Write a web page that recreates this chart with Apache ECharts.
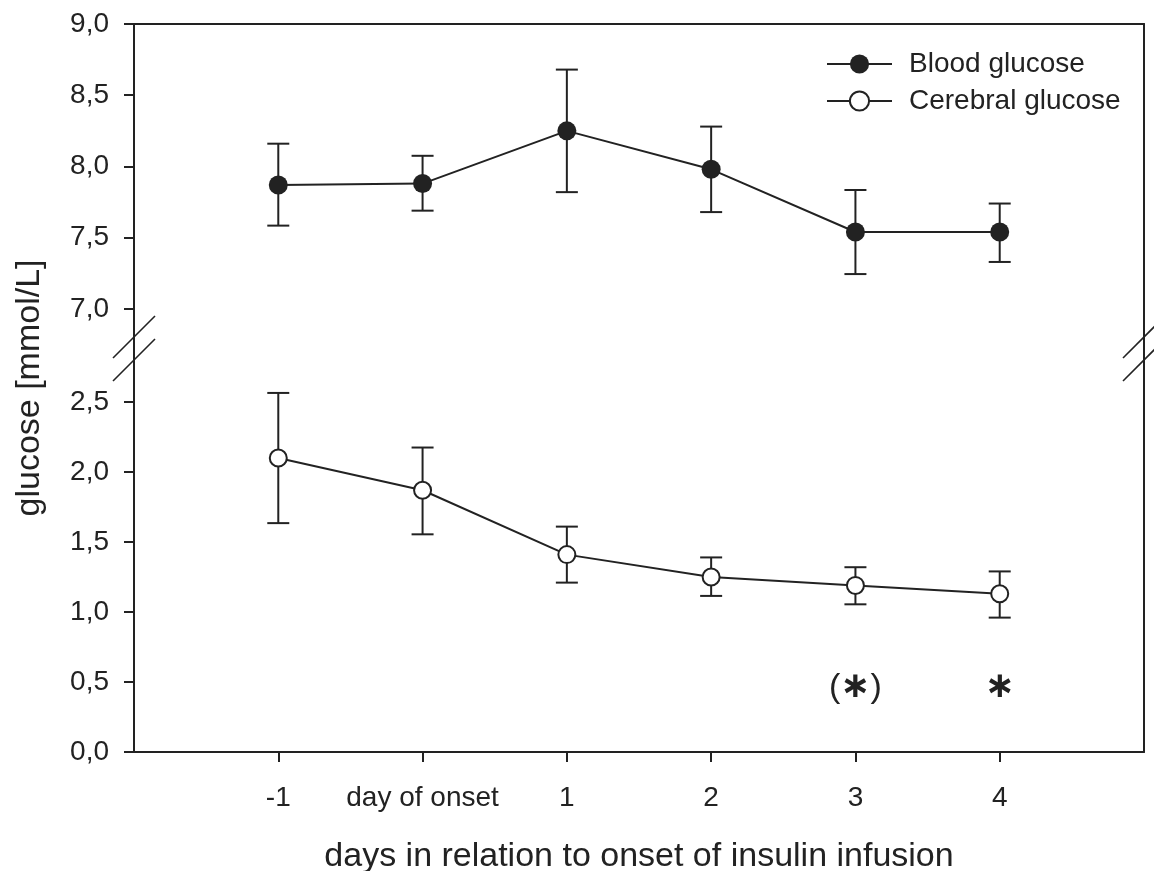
<!DOCTYPE html>
<html><head><meta charset="utf-8">
<script src="https://cdn.jsdelivr.net/npm/echarts@6/dist/echarts.min.js"></script>
<style>html,body{margin:0;padding:0;background:#fff}#c{width:1154px;height:871px}</style>
</head><body><div id="c"></div>
<script>
// ---- data ----
const days = [-1, 0, 1, 2, 3, 4];
const dayLabels = ['-1', 'day of onset', '1', '2', '3', '4'];
const bloodMean = [7.87, 7.88, 8.25, 7.98, 7.54, 7.54];
const bloodLow = [7.585, 7.69, 7.82, 7.68, 7.245, 7.33];
const bloodHigh = [8.16, 8.075, 8.68, 8.28, 7.835, 7.74];
const cerebralMean = [2.10, 1.87, 1.41, 1.25, 1.19, 1.13];
const cerebralLow = [1.635, 1.555, 1.21, 1.115, 1.055, 0.96];
const cerebralHigh = [2.565, 2.175, 1.61, 1.39, 1.32, 1.29];
const upperTicks = [7.0, 7.5, 8.0, 8.5, 9.0];
const lowerTicks = [0.0, 0.5, 1.0, 1.5, 2.0, 2.5];
const sigDays = [3, 4];
const sigMarks = ['(∗)', '∗'];
const sigLevel = 0.46;

// ---- layout ----
const INK = '#222';
const FONT = 'Liberation Sans, Arial, Helvetica, sans-serif';
const L = 134, RX = 1144, T = 24, BRK = 355, B = 752, W = 1154, H = 871;

const fmt = v => v.toFixed(1).replace('.', ',');

function errRender(params, api) {
  const x = api.value(0), lo = api.value(1), hi = api.value(2);
  const pLo = api.coord([x, lo]), pHi = api.coord([x, hi]);
  const hw = 11;
  const style = {stroke: INK, lineWidth: 2};
  return {type: 'group', children: [
    {type: 'line', shape: {x1: pLo[0], y1: pLo[1], x2: pHi[0], y2: pHi[1]}, style},
    {type: 'line', shape: {x1: pLo[0] - hw, y1: pLo[1], x2: pLo[0] + hw, y2: pLo[1]}, style},
    {type: 'line', shape: {x1: pHi[0] - hw, y1: pHi[1], x2: pHi[0] + hw, y2: pHi[1]}, style}
  ]};
}

const axLine = {show: true, onZero: false, lineStyle: {color: INK, width: 2}};
const tick = {show: true, length: 10, lineStyle: {color: INK, width: 2}};
const lbl = {color: INK, fontSize: 28, fontFamily: FONT};

const slashes = [];
[L, RX].forEach(ax => {
  [BRK - 18, BRK + 5].forEach(yc => {
    slashes.push({type: 'line', z: 100, shape: {x1: ax - 21, y1: yc + 21, x2: ax + 21, y2: yc - 21},
      style: {stroke: INK, lineWidth: 1.6}});
  });
});

const option = {
  backgroundColor: '#fff',
  animation: false,
  grid: [
    {left: L, right: W - RX, top: T, height: BRK - T, outerBoundsMode: 'none', containLabel: false},
    {left: L, right: W - RX, top: BRK, height: B - BRK, outerBoundsMode: 'none', containLabel: false}
  ],
  xAxis: [
    {type: 'value', gridIndex: 0, min: -2, max: 5, position: 'top',
      axisLine: axLine, axisTick: {show: false}, axisLabel: {show: false}, splitLine: {show: false}},
    {type: 'value', gridIndex: 1, min: -2, max: 5, position: 'bottom',
      axisLine: axLine,
      axisTick: Object.assign({customValues: days}, tick),
      axisLabel: Object.assign({customValues: days, margin: 32,
        formatter: v => dayLabels[days.indexOf(v)] ?? ''}, lbl),
      splitLine: {show: false},
      name: 'days in relation to onset of insulin infusion', nameLocation: 'middle', nameGap: 88,
      nameTextStyle: {color: INK, fontSize: 34, fontFamily: FONT}}
  ],
  yAxis: [
    {type: 'value', gridIndex: 0, min: 6.677, max: 9, position: 'left',
      axisLine: axLine,
      axisTick: Object.assign({customValues: upperTicks}, tick),
      axisLabel: Object.assign({customValues: upperTicks, margin: 25, formatter: fmt}, lbl),
      splitLine: {show: false}},
    {type: 'value', gridIndex: 0, min: 6.677, max: 9, position: 'right',
      axisLine: axLine, axisTick: {show: false}, axisLabel: {show: false}, splitLine: {show: false}},
    {type: 'value', gridIndex: 1, min: 0, max: 2.836, position: 'left',
      axisLine: axLine,
      axisTick: Object.assign({customValues: lowerTicks}, tick),
      axisLabel: Object.assign({customValues: lowerTicks, margin: 25, formatter: fmt}, lbl),
      splitLine: {show: false}},
    {type: 'value', gridIndex: 1, min: 0, max: 2.836, position: 'right',
      axisLine: axLine, axisTick: {show: false}, axisLabel: {show: false}, splitLine: {show: false}}
  ],
  legend: {
    orient: 'vertical', left: 826, top: 50, padding: 0,
    itemWidth: 65, itemHeight: 24, itemGap: 9,
    textStyle: {color: INK, fontSize: 28, fontFamily: FONT, padding: [0, 0, 0, 12], lineHeight: 28},
    data: ['Blood glucose', 'Cerebral glucose']
  },
  graphic: slashes.concat([
    {type: 'text', x: 30, y: (T + B) / 2, rotation: Math.PI / 2,
      style: {text: 'glucose [mmol/L]', fill: INK, fontSize: 34, fontFamily: FONT,
        align: 'center', verticalAlign: 'middle'}}
  ]),
  series: [
    {type: 'custom', xAxisIndex: 0, yAxisIndex: 0, z: 1, clip: false,
      data: days.map((d, i) => [d, bloodLow[i], bloodHigh[i]]),
      encode: {x: 0, y: [1, 2]}, renderItem: errRender},
    {type: 'custom', xAxisIndex: 1, yAxisIndex: 2, z: 1, clip: false,
      data: days.map((d, i) => [d, cerebralLow[i], cerebralHigh[i]]),
      encode: {x: 0, y: [1, 2]}, renderItem: errRender},
    {name: 'Blood glucose', type: 'line', xAxisIndex: 0, yAxisIndex: 0, z: 3,
      data: days.map((d, i) => [d, bloodMean[i]]),
      symbol: 'circle', symbolSize: 19,
      lineStyle: {color: INK, width: 2},
      itemStyle: {color: INK, borderColor: INK, borderWidth: 0}},
    {name: 'Cerebral glucose', type: 'line', xAxisIndex: 1, yAxisIndex: 2, z: 3,
      data: days.map((d, i) => [d, cerebralMean[i]]),
      symbol: 'circle', symbolSize: 17,
      lineStyle: {color: INK, width: 2},
      itemStyle: {color: '#fff', borderColor: INK, borderWidth: 2}},
    {type: 'scatter', xAxisIndex: 1, yAxisIndex: 2, z: 4, symbolSize: 0,
      itemStyle: {color: INK, opacity: 1},
      data: sigDays.map(d => [d, sigLevel]),
      label: {show: true, position: 'inside', color: INK, textBorderWidth: 0,
        formatter: p => sigMarks[p.dataIndex].replace('(', '{p|(}').replace(')', '{p|)}').replace('∗', '{s|∗}'),
        rich: {
          p: {fontSize: 34, fontFamily: FONT, color: INK, textBorderWidth: 0},
          s: {fontSize: 36, fontFamily: 'DejaVu Sans', fontWeight: 'bold', color: INK, textBorderWidth: 0}
        }}}
  ]
};

const chart = echarts.init(document.getElementById('c'), null, {renderer: 'canvas'});
chart.setOption(option);
</script>
</body></html>
